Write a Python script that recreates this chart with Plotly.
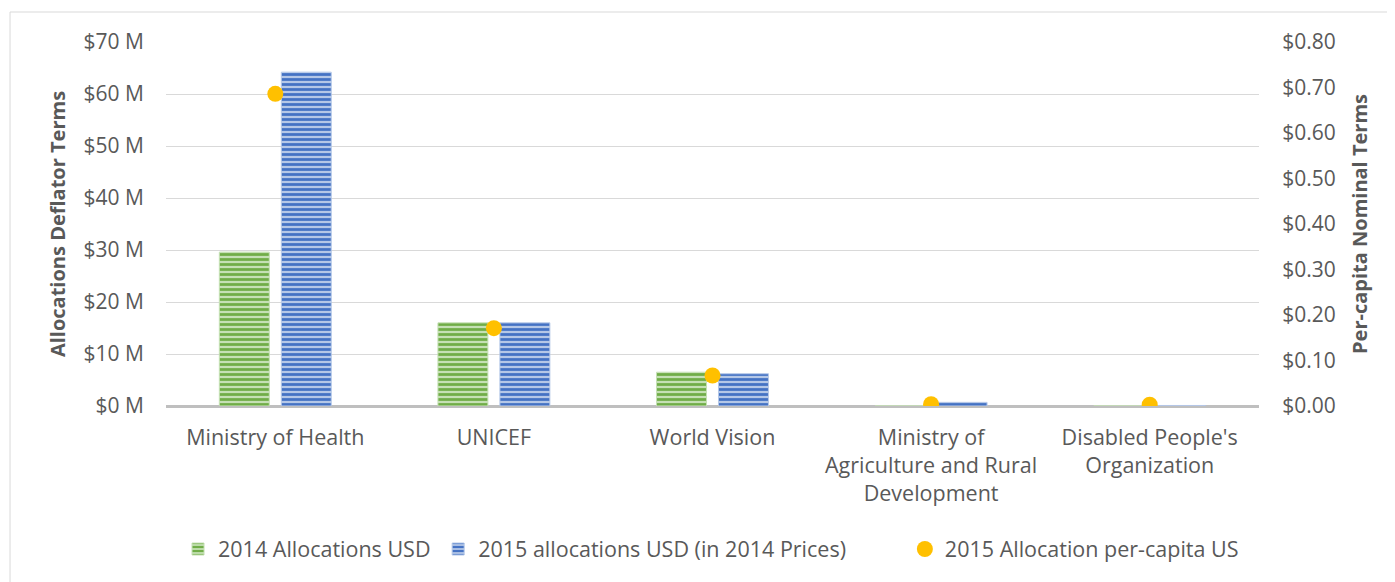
import plotly.graph_objects as go

categories = ["Ministry of Health", "UNICEF", "World Vision",
              "Ministry of<br>Agriculture and Rural<br>Development",
              "Disabled People's<br>Organization"]
alloc_2014 = [29.6, 16.0, 6.5, 0.0, 0.0]
alloc_2015 = [64.2, 16.0, 6.2, 0.7, 0.1]
per_capita_2015 = [0.686, 0.171, 0.067, 0.004, 0.003]
left_ticks = [0, 10, 20, 30, 40, 50, 60, 70]
left_ticktext = ["$%d M" % v for v in left_ticks]

FONT = "Open Sans"
GREY = "#595959"

fig = go.Figure()
fig.add_trace(go.Bar(
    x=categories, y=alloc_2014, name="2014 Allocations USD", legend="legend",
    marker=dict(color="#70AD47",
                line=dict(color="#c5e0b4", width=1),
                pattern=dict(shape="-", bgcolor="#c5e0b4", fgcolor="#70AD47",
                             size=5, solidity=0.55, fillmode="replace")),
))
fig.add_trace(go.Bar(
    x=categories, y=alloc_2015, name="2015 allocations USD (in 2014 Prices)",
    legend="legend2",
    marker=dict(color="#4472C4",
                line=dict(color="#b4c7e7", width=1),
                pattern=dict(shape="-", bgcolor="#b4c7e7", fgcolor="#4472C4",
                             size=5, solidity=0.55, fillmode="replace")),
))
fig.add_trace(go.Scatter(
    x=categories, y=per_capita_2015, name="2015 Allocation per-capita US",
    mode="markers", yaxis="y2", legend="legend3",
    marker=dict(color="#FFC000", size=16),
))

leg_common = dict(orientation="h", y=-0.393, yanchor="middle", xanchor="left",
                  font=dict(size=21.5, color=GREY), itemwidth=30,
                  bgcolor="rgba(0,0,0,0)")

fig.update_layout(
    width=1387, height=574,
    margin=dict(l=158, r=136, t=34, b=176),
    paper_bgcolor="white", plot_bgcolor="white",
    font=dict(family=FONT, size=21, color=GREY),
    barmode="group", bargap=0.433, bargroupgap=0.194,
    showlegend=True,
    legend=dict(x=0.011, **leg_common),
    legend2=dict(x=0.249, **leg_common),
    legend3=dict(x=0.676, **leg_common),
    xaxis=dict(showgrid=False, showline=False, ticks="outside", ticklen=12,
               tickcolor="rgba(0,0,0,0)", tickfont=dict(size=21.5, color=GREY)),
    yaxis=dict(range=[0, 70], tickvals=left_ticks, ticktext=left_ticktext,
               showgrid=True, gridcolor="#d9d9d9", gridwidth=1,
               zeroline=True, zerolinecolor="#bfbfbf", zerolinewidth=3,
               ticks="outside", ticklen=17, tickcolor="rgba(0,0,0,0)",
               tickfont=dict(size=21, color=GREY),
               title=dict(text="<b>Allocations Deflator Terms</b>", standoff=12,
                          font=dict(size=20, color=GREY))),
    yaxis2=dict(range=[0, 0.8], dtick=0.1, tickformat="$.2f", overlaying="y",
                side="right", showgrid=False, zeroline=False,
                ticks="outside", ticklen=18, tickcolor="rgba(0,0,0,0)",
                tickfont=dict(size=21, color=GREY),
                title=dict(text="<b>Per-capita Nominal Terms</b>", standoff=18,
                           font=dict(size=20, color=GREY))),
    shapes=[dict(type="rect", xref="paper", yref="paper",
                 x0=-0.1427, x1=1.1235, y0=-0.6, y1=1.0824,
                 line=dict(color="#d9d9d9", width=1), fillcolor="rgba(0,0,0,0)",
                 layer="below")],
)

fig.write_html("out.html")
